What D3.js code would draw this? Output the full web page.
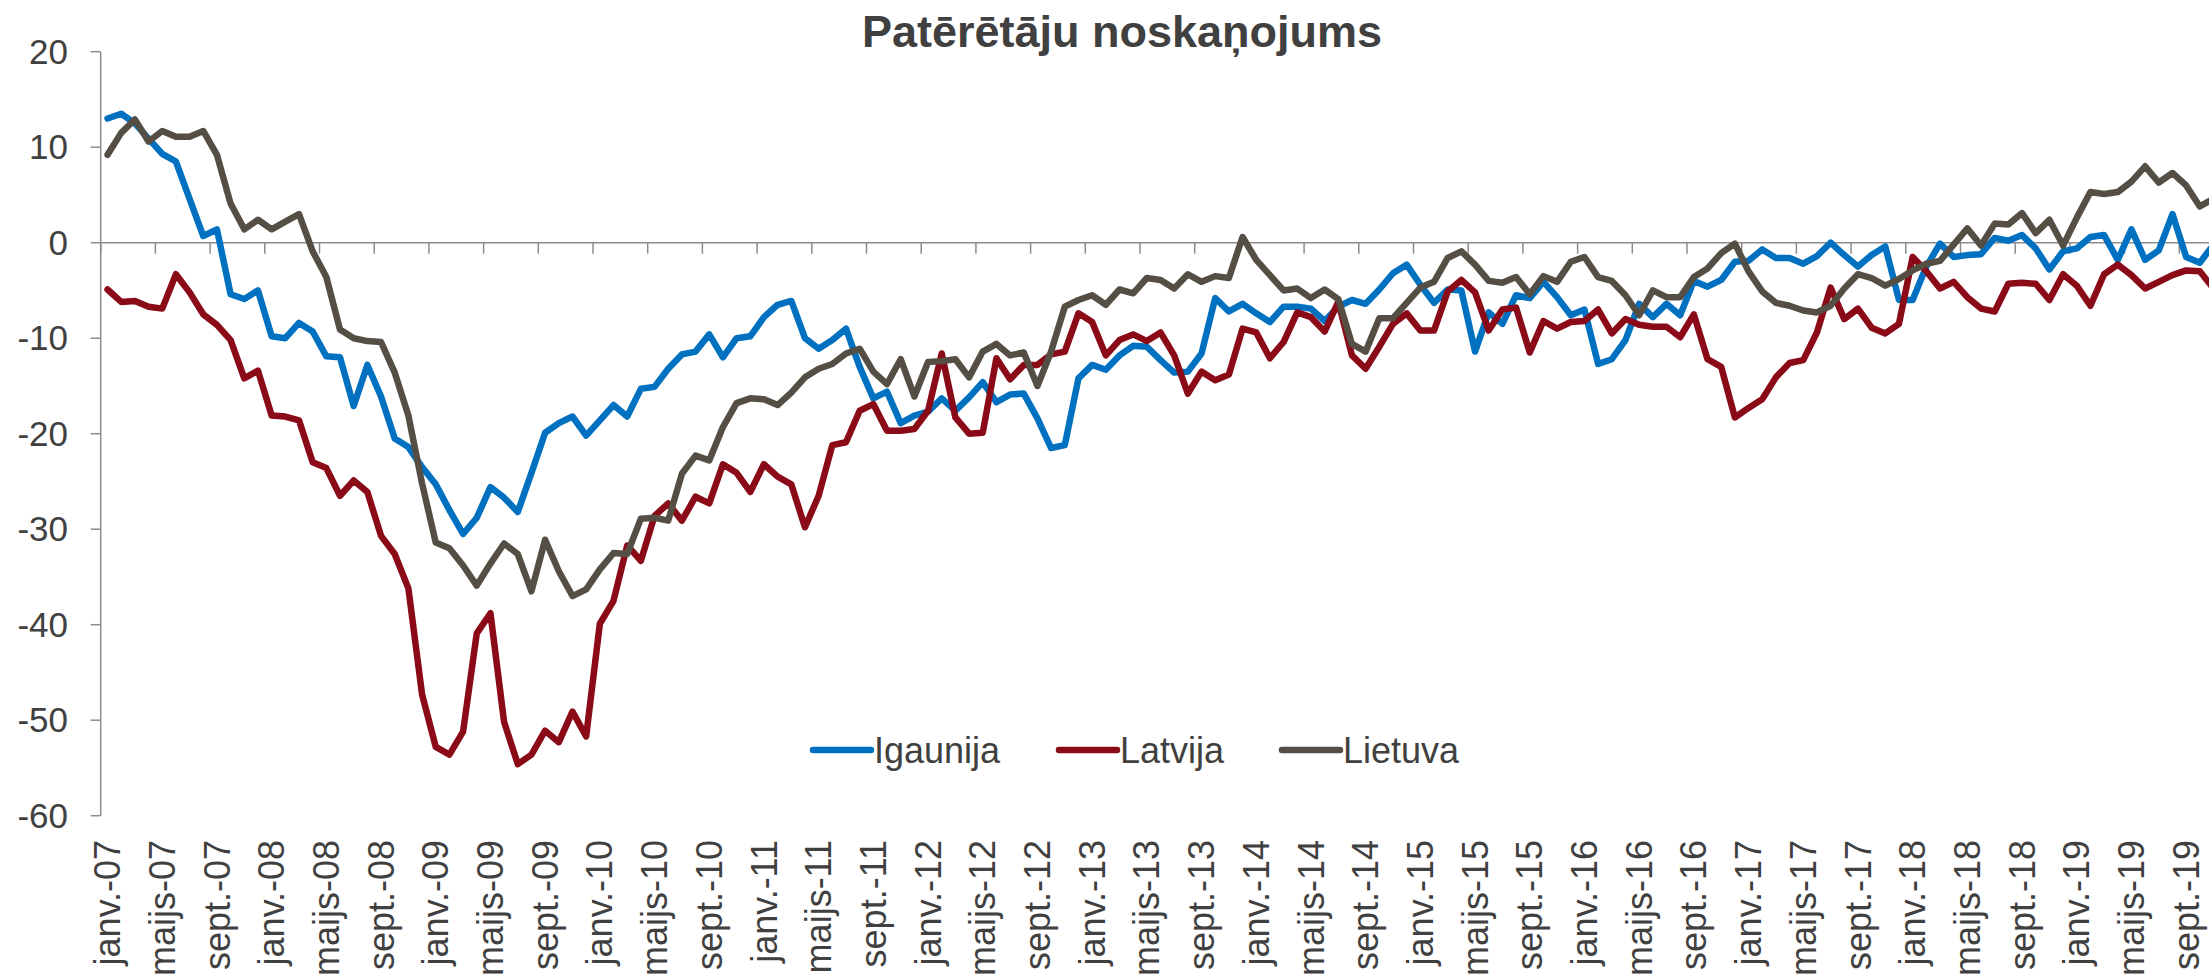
<!DOCTYPE html>
<html>
<head>
<meta charset="utf-8">
<script src="https://cdn.jsdelivr.net/npm/d3@7"></script>
<style>
  html, body { margin: 0; padding: 0; background: #fff; }
  svg { display: block; font-family: 'Liberation Sans', Arial, sans-serif; }
</style>
</head>
<body>
<svg id="chart" width="2209" height="979"></svg>
<script>
// monthly values, janv.-07 .. nov.-19
const igaunija = [
  13.0, 13.5, 12.5, 10.9, 9.3, 8.5, 4.6, 0.7, 1.4, -5.4,
  -5.9, -5.0, -9.8, -10.0, -8.4, -9.3, -11.9, -12.0, -17.1, -12.8,
  -16.1, -20.5, -21.4, -23.5, -25.3, -28.0, -30.5, -28.8, -25.6, -26.7,
  -28.2, -24.1, -19.9, -18.9, -18.2, -20.2, -18.6, -17.0, -18.2, -15.3,
  -15.1, -13.2, -11.7, -11.4, -9.6, -12.0, -10.0, -9.8, -7.8, -6.5,
  -6.1, -10.0, -11.1, -10.2, -9.0, -13.0, -16.3, -15.6, -18.9, -18.1,
  -17.7, -16.3, -17.6, -16.2, -14.6, -16.7, -15.9, -15.8, -18.4, -21.5,
  -21.2, -14.2, -12.8, -13.3, -11.8, -10.8, -10.9, -12.3, -13.6, -13.5,
  -11.6, -5.8, -7.2, -6.4, -7.4, -8.3, -6.7, -6.7, -6.9, -8.2,
  -6.7, -6.0, -6.4, -4.9, -3.2, -2.3, -4.4, -6.3, -4.9, -5.0,
  -11.4, -7.3, -8.5, -5.5, -5.8, -4.1, -5.7, -7.6, -7.0, -12.7,
  -12.2, -10.2, -6.4, -7.8, -6.4, -7.6, -4.0, -4.6, -3.9, -2.0,
  -1.9, -0.7, -1.6, -1.6, -2.2, -1.4, 0.0, -1.3, -2.5, -1.3,
  -0.4, -6.0, -6.0, -2.5, -0.1, -1.5, -1.3, -1.2, 0.5, 0.2,
  0.8, -0.6, -2.8, -0.9, -0.6, 0.6, 0.8, -1.8, 1.4, -1.8,
  -0.8, 3.0, -1.5, -2.1, -0.2
]
const latvija = [
  -4.9, -6.2, -6.1, -6.7, -6.9, -3.3, -5.2, -7.5, -8.6, -10.2,
  -14.2, -13.4, -18.1, -18.2, -18.6, -23.0, -23.6, -26.5, -24.9, -26.1,
  -30.7, -32.6, -36.2, -47.3, -52.8, -53.6, -51.2, -40.9, -38.8, -50.2,
  -54.6, -53.6, -51.1, -52.3, -49.1, -51.7, -39.9, -37.5, -31.7, -33.3,
  -28.6, -27.3, -29.1, -26.6, -27.3, -23.2, -24.1, -26.1, -23.2, -24.5,
  -25.3, -29.8, -26.5, -21.2, -20.9, -17.6, -16.9, -19.7, -19.7, -19.5,
  -17.6, -11.6, -18.3, -20.0, -19.9, -12.1, -14.3, -12.8, -12.8, -11.7,
  -11.4, -7.4, -8.3, -11.8, -10.2, -9.6, -10.3, -9.4, -11.8, -15.8,
  -13.5, -14.4, -13.8, -9.0, -9.4, -12.1, -10.4, -7.3, -7.8, -9.3,
  -6.2, -11.8, -13.2, -10.9, -8.5, -7.4, -9.2, -9.2, -5.1, -3.9,
  -5.2, -9.2, -7.0, -6.8, -11.5, -8.2, -9.0, -8.3, -8.2, -7.0,
  -9.5, -8.0, -8.6, -8.8, -8.8, -9.9, -7.5, -12.2, -13.0, -18.3,
  -17.3, -16.4, -14.1, -12.6, -12.3, -9.4, -4.7, -8.0, -6.9, -8.9,
  -9.5, -8.5, -1.5, -3.0, -4.8, -4.1, -5.7, -6.9, -7.2, -4.3,
  -4.2, -4.3, -6.0, -3.3, -4.5, -6.6, -3.3, -2.3, -3.4, -4.8,
  -4.1, -3.4, -2.9, -3.0, -4.8
]
const lietuva = [
  9.2, 11.5, 12.9, 10.6, 11.7, 11.1, 11.1, 11.7, 9.2, 4.1,
  1.4, 2.4, 1.4, 2.2, 3.0, -0.9, -3.6, -9.1, -10.0, -10.3,
  -10.4, -13.6, -18.1, -25.2, -31.4, -32.0, -33.8, -35.9, -33.6, -31.5,
  -32.6, -36.5, -31.1, -34.4, -37.0, -36.3, -34.2, -32.5, -32.6, -28.9,
  -28.8, -29.1, -24.2, -22.3, -22.8, -19.3, -16.8, -16.3, -16.4, -17.0,
  -15.7, -14.1, -13.2, -12.7, -11.6, -11.1, -13.5, -14.8, -12.2, -16.1,
  -12.5, -12.4, -12.2, -14.1, -11.4, -10.6, -11.8, -11.5, -15.0, -11.4,
  -6.7, -6.0, -5.5, -6.5, -4.9, -5.3, -3.7, -3.9, -4.8, -3.3,
  -4.1, -3.5, -3.7, 0.6, -1.8, -3.4, -5.0, -4.8, -5.8, -4.9,
  -5.9, -10.6, -11.4, -7.9, -7.9, -6.3, -4.7, -4.1, -1.6, -0.9,
  -2.3, -4.0, -4.2, -3.6, -5.4, -3.5, -4.1, -2.0, -1.5, -3.6,
  -4.0, -5.5, -7.6, -5.0, -5.7, -5.7, -3.6, -2.7, -1.1, -0.1,
  -3.0, -5.1, -6.3, -6.6, -7.1, -7.3, -6.6, -4.8, -3.3, -3.7,
  -4.5, -3.8, -2.9, -2.2, -1.9, -0.2, 1.5, -0.3, 2.0, 1.9,
  3.1, 1.0, 2.4, -0.3, 2.6, 5.3, 5.1, 5.3, 6.4, 8.0,
  6.3, 7.3, 6.0, 3.8, 4.6
]
// one label every 4 months
const tickLabels = [
  'janv.-07', 'maijs-07', 'sept.-07', 'janv.-08', 'maijs-08', 'sept.-08',
  'janv.-09', 'maijs-09', 'sept.-09', 'janv.-10', 'maijs-10', 'sept.-10',
  'janv.-11', 'maijs-11', 'sept.-11', 'janv.-12', 'maijs-12', 'sept.-12',
  'janv.-13', 'maijs-13', 'sept.-13', 'janv.-14', 'maijs-14', 'sept.-14',
  'janv.-15', 'maijs-15', 'sept.-15', 'janv.-16', 'maijs-16', 'sept.-16',
  'janv.-17', 'maijs-17', 'sept.-17', 'janv.-18', 'maijs-18', 'sept.-18',
  'janv.-19', 'maijs-19', 'sept.-19'
]
const seriesNames = ['Igaunija', 'Latvija', 'Lietuva']
const colors = ['#0070c0', '#8a0a18', '#554e44']
const yTicks = [20, 10, 0, -10, -20, -30, -40, -50, -60]

const svg = d3.select('#chart')
const textColor = '#404040'
const axisColor = '#8c8c8c'
const left = 100.7
const step = 13.675
const n = igaunija.length

const x = d3.scaleBand()
  .domain(d3.range(n))
  .range([left, left + step * n])
  .padding(0)
const y = d3.scaleLinear()
  .domain([-60, 20])
  .range([815.7, 51.7])
const cx = (i) => x(i) + x.bandwidth() / 2

// title
svg.append('text')
  .attr('x', 1122)
  .attr('y', 47)
  .attr('text-anchor', 'middle')
  .style('font-size', '45px')
  .style('font-weight', 'bold')
  .style('fill', textColor)
  .text('Patērētāju noskaņojums')

// y axis
const yAxis = svg.append('g')
yAxis.append('line')
  .attr('x1', left).attr('x2', left)
  .attr('y1', y(20)).attr('y2', y(-60))
  .style('stroke', axisColor).style('stroke-width', 1.5)
yAxis.selectAll('.ytick')
  .data(yTicks)
  .enter().append('line')
  .attr('x1', left - 10).attr('x2', left)
  .attr('y1', (d) => y(d)).attr('y2', (d) => y(d))
  .style('stroke', axisColor).style('stroke-width', 1.5)
yAxis.selectAll('.ylabel')
  .data(yTicks)
  .enter().append('text')
  .attr('x', 68)
  .attr('y', (d) => y(d))
  .attr('dy', '0.35em')
  .attr('text-anchor', 'end')
  .style('font-size', '35px')
  .style('fill', textColor)
  .text((d) => d)

// x axis at zero, ticks every 4 months
const tickIdx = d3.range(0, n + 1, 4)
const xAxis = svg.append('g')
xAxis.append('line')
  .attr('x1', left).attr('x2', 2209)
  .attr('y1', y(0)).attr('y2', y(0))
  .style('stroke', axisColor).style('stroke-width', 1.5)
xAxis.selectAll('.xtick')
  .data(tickIdx)
  .enter().append('line')
  .attr('x1', (d) => left + d * x.step()).attr('x2', (d) => left + d * x.step())
  .attr('y1', y(0)).attr('y2', y(0) + 11)
  .style('stroke', axisColor).style('stroke-width', 1.5)
xAxis.selectAll('.xlabel')
  .data(tickLabels)
  .enter().append('text')
  .attr('transform', (d, i) => `translate(${cx(i * 4)},840) rotate(-90)`)
  .attr('dy', '0.35em')
  .attr('text-anchor', 'end')
  .style('font-size', '36px')
  .style('fill', textColor)
  .text((d) => d)

// lines
const line = d3.line()
  .x((d, i) => cx(i))
  .y((d) => y(d))
const series = [igaunija, latvija, lietuva]
svg.selectAll('.series')
  .data(series)
  .enter().append('path')
  .attr('class', 'series')
  .attr('d', line)
  .style('fill', 'none')
  .style('stroke', (d, i) => colors[i])
  .style('stroke-width', 6.5)
  .style('stroke-linejoin', 'round')
  .style('stroke-linecap', 'round')

// legend
const legendX = [813, 1059, 1282]
const legend = svg.selectAll('.legend')
  .data(seriesNames)
  .enter().append('g')
  .attr('transform', (d, i) => `translate(${legendX[i]},750)`)
legend.append('line')
  .attr('x1', 0).attr('x2', 58)
  .style('stroke', (d, i) => colors[i])
  .style('stroke-width', 6.5)
  .style('stroke-linecap', 'round')
legend.append('text')
  .attr('x', 61)
  .attr('dy', '0.35em')
  .style('font-size', '36px')
  .style('fill', textColor)
  .text((d) => d)
</script>
</body>
</html>
